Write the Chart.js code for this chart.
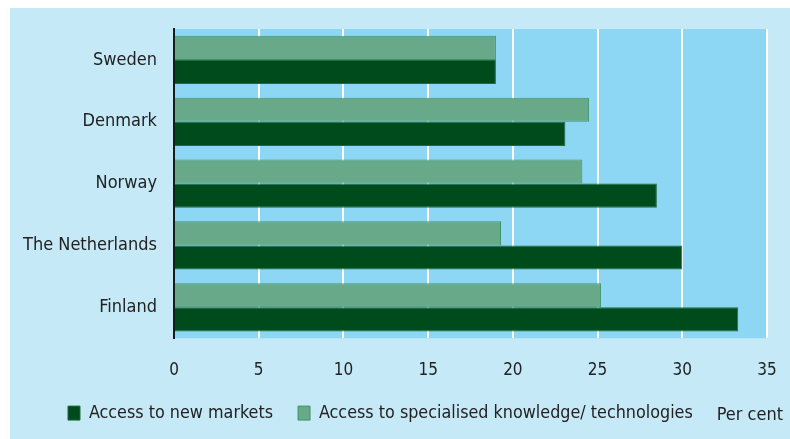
<!DOCTYPE html>
<html>
<head>
<meta charset="utf-8">
<script src="https://cdn.jsdelivr.net/npm/chart.js@4.4.1/dist/chart.umd.min.js"></script>
<style>
  html, body { margin: 0; padding: 0; background: #fff; }
  #wrap { width: 790px; height: 439px; position: relative; }
</style>
</head>
<body>
<div id="wrap"><canvas id="motives"></canvas></div>
<script>
const countries = ['Sweden', 'Denmark', 'Norway', 'The Netherlands', 'Finland'];
const newMarkets = [19.0, 23.1, 28.5, 30.0, 33.3];
const specialisedKnowledge = [19.0, 24.5, 24.1, 19.3, 25.2];
const seriesNames = ['Access to new markets', 'Access to specialised knowledge/ technologies'];
const unitLabel = 'Per cent';

const family = "'DejaVu Sans Condensed', 'DejaVu Sans', sans-serif";
const chartCanvas = document.getElementById('motives');

// light blue panel, plot fill and the unit label
const backdrop = {
    id: 'backdrop',
    afterLayout(chart) {
        // legend sits further right than the y axis labels
        if (chart.legend) chart.legend.left += 33;
    },
    beforeDraw(chart) {
        const { ctx, chartArea: a } = chart;
        ctx.save();
        ctx.fillStyle = '#ffffff';
        ctx.fillRect(0, 0, chart.width, chart.height);
        ctx.fillStyle = '#c6e9f8';
        ctx.fillRect(10, 8, chart.width - 10, chart.height - 8);
        ctx.fillStyle = '#8dd7f5';
        ctx.fillRect(a.left, a.top, a.right - a.left + 1, a.bottom - a.top);
        ctx.restore();
    },
    afterDraw(chart) {
        const ctx = chart.ctx;
        ctx.save();
        ctx.fillStyle = '#222';
        ctx.font = '18px ' + family;
        ctx.textAlign = 'right';
        ctx.textBaseline = 'middle';
        ctx.fillText(unitLabel, 783, 415);
        ctx.restore();
    }
};

new Chart(chartCanvas, {
    type: 'bar',
    data: {
        labels: countries,
        datasets: [
            {
                label: seriesNames[1],
                data: specialisedKnowledge,
                backgroundColor: '#68a98a',
                borderColor: '#3d966a',
                borderWidth: 1
            },
            {
                label: seriesNames[0],
                data: newMarkets,
                backgroundColor: '#004b1c',
                borderColor: '#1f6b3c',
                borderWidth: 1
            }
        ]
    },
    options: {
        indexAxis: 'y',
        responsive: true,
        maintainAspectRatio: false,
        animation: false,
        datasets: {
            bar: { categoryPercentage: 0.78, barPercentage: 1 }
        },
        layout: { padding: { top: 29, right: 23, left: 10, bottom: 7 } },
        plugins: {
            tooltip: { enabled: false },
            legend: {
                position: 'bottom',
                align: 'start',
                reverse: true,
                labels: {
                    boxWidth: 12,
                    boxHeight: 14,
                    padding: 25,
                    color: '#222',
                    font: { family: family, size: 17.8 }
                }
            }
        },
        scales: {
            x: {
                min: 0,
                max: 35,
                ticks: { stepSize: 5, color: '#222', padding: 22, font: { family: family, size: 17 } },
                grid: {
                    color: ctx => ctx.tick && ctx.tick.value === 0 ? 'rgba(0,0,0,0)' : '#ffffff',
                    lineWidth: 2,
                    drawTicks: false
                },
                border: { display: false },
                afterFit(scale) {
                    scale.height = 41;
                    scale.paddingLeft = 0;
                    scale.paddingRight = 0;
                }
            },
            y: {
                ticks: { color: '#222', padding: 17, font: { family: family, size: 18 } },
                grid: { display: false, drawTicks: false },
                border: { display: true, color: '#1a1a1a', width: 2 },
                afterFit(scale) { scale.width = 164; }
            }
        }
    },
    plugins: [backdrop]
});
</script>
</body>
</html>
